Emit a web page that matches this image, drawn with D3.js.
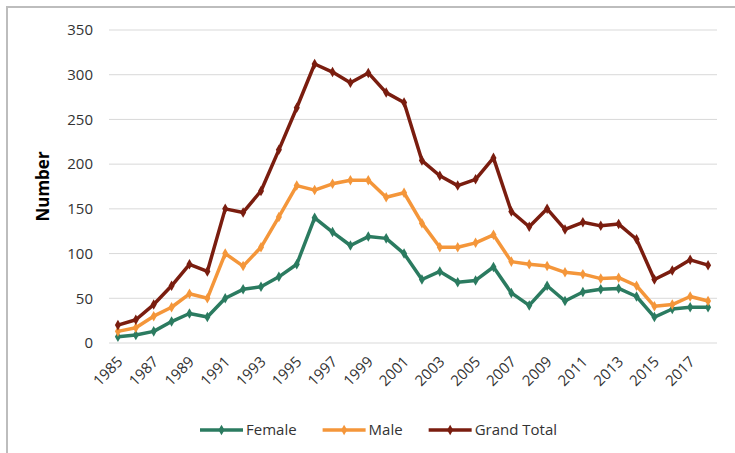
<!DOCTYPE html>
<html>
<head>
<meta charset="utf-8">
<script src="https://cdn.jsdelivr.net/npm/d3@7"></script>
<style>
  body { margin: 0; background: #fff; }
  text { font-family: "Open Sans", sans-serif; fill: #333; }
</style>
</head>
<body>
<svg id="chart" width="735" height="453"></svg>
<script>
var years = d3.range(1985, 2019);
var female = [7, 9, 13, 24, 33, 29, 50, 60, 63, 74, 88, 140, 124, 109, 119, 117, 100, 71, 80, 68, 70, 85, 56, 42, 64, 47, 57, 60, 61, 52, 29, 38, 40, 40];
var male = [13, 17, 30, 40, 55, 50, 100, 86, 107, 141, 176, 171, 178, 182, 182, 163, 168, 134, 107, 107, 112, 121, 91, 88, 86, 79, 77, 72, 73, 64, 41, 43, 52, 47];
var grandTotal = [20, 26, 43, 64, 88, 80, 150, 146, 170, 216, 263, 312, 303, 291, 302, 280, 269, 204, 187, 176, 183, 207, 147, 130, 150, 127, 135, 131, 133, 116, 71, 81, 93, 87];
var yTicks = [0, 50, 100, 150, 200, 250, 300, 350];

var series = [
	{ name: 'Female', values: female, color: '#2b7b60' },
	{ name: 'Male', values: male, color: '#f4963a' },
	{ name: 'Grand Total', values: grandTotal, color: '#7a1d0f' }
];

var svg = d3.select('#chart');

// frame of the pasted chart
svg.append('rect')
	.attr('x', 7).attr('y', 7)
	.attr('width', 760).attr('height', 470)
	.style('fill', 'none')
	.style('stroke', '#bdbdbd')
	.style('stroke-width', 2);

var x = d3.scaleBand().domain(years).range([109, 717]);
var y = d3.scaleLinear().domain([0, 350]).range([343, 30]);

// gridlines
svg.append('g').selectAll('line')
	.data(yTicks)
	.enter()
	.append('line')
	.attr('x1', 109).attr('x2', 717)
	.attr('y1', function(d) { return y(d) })
	.attr('y2', function(d) { return y(d) })
	.style('stroke', '#d9d9d9')
	.style('stroke-width', 1);

// y axis labels
svg.append('g').selectAll('text')
	.data(yTicks)
	.enter()
	.append('text')
	.attr('x', 93)
	.attr('y', function(d) { return y(d) })
	.attr('dy', '0.35em')
	.attr('text-anchor', 'end')
	.style('font-size', '15px')
	.text(function(d) { return d });

svg.append('text')
	.attr('transform', 'translate(49,' + y(175) + ') rotate(-90)')
	.attr('text-anchor', 'middle')
	.style('font-size', '17px')
	.style('font-weight', 'bold')
	.style('fill', '#000')
	.text('Number');

// x axis labels, every other year
svg.append('g').selectAll('text')
	.data(years.filter(function(d, i) { return i % 2 == 0 }))
	.enter()
	.append('text')
	.attr('transform', function(d) {
		return 'translate(' + (x(d) + x.bandwidth() / 2 + 2) + ',359) rotate(-45)';
	})
	.attr('text-anchor', 'end')
	.attr('dy', '0.35em')
	.style('font-size', '15px')
	.text(function(d) { return d });

var line = d3.line()
	.x(function(d, i) { return x(years[i]) + x.bandwidth() / 2 })
	.y(function(d) { return y(d) });

var diamond = d3.symbol().type(d3.symbolDiamond).size(32);

series.forEach(function(s) {
	svg.append('path')
		.datum(s.values)
		.attr('d', line)
		.style('fill', 'none')
		.style('stroke', s.color)
		.style('stroke-width', 3.5)
		.style('stroke-linejoin', 'round');

	svg.append('g').selectAll('path')
		.data(s.values)
		.enter()
		.append('path')
		.attr('d', diamond)
		.attr('transform', function(d, i) {
			return 'translate(' + (x(years[i]) + x.bandwidth() / 2) + ',' + y(d) + ')';
		})
		.style('fill', s.color);
});

// legend
var legend = svg.append('g');
var lx = 200;
series.forEach(function(s) {
	var item = legend.append('g').attr('transform', 'translate(' + lx + ',430)');
	item.append('line')
		.attr('x1', 0).attr('x2', 43)
		.style('stroke', s.color)
		.style('stroke-width', 3.5);
	item.append('path')
		.attr('d', diamond)
		.attr('transform', 'translate(21.5,0)')
		.style('fill', s.color);
	var t = item.append('text')
		.attr('x', 46)
		.attr('dy', '0.35em')
		.style('font-size', '15px')
		.text(s.name);
	lx += 46 + t.node().getComputedTextLength() + 26;
});
</script>
</body>
</html>
